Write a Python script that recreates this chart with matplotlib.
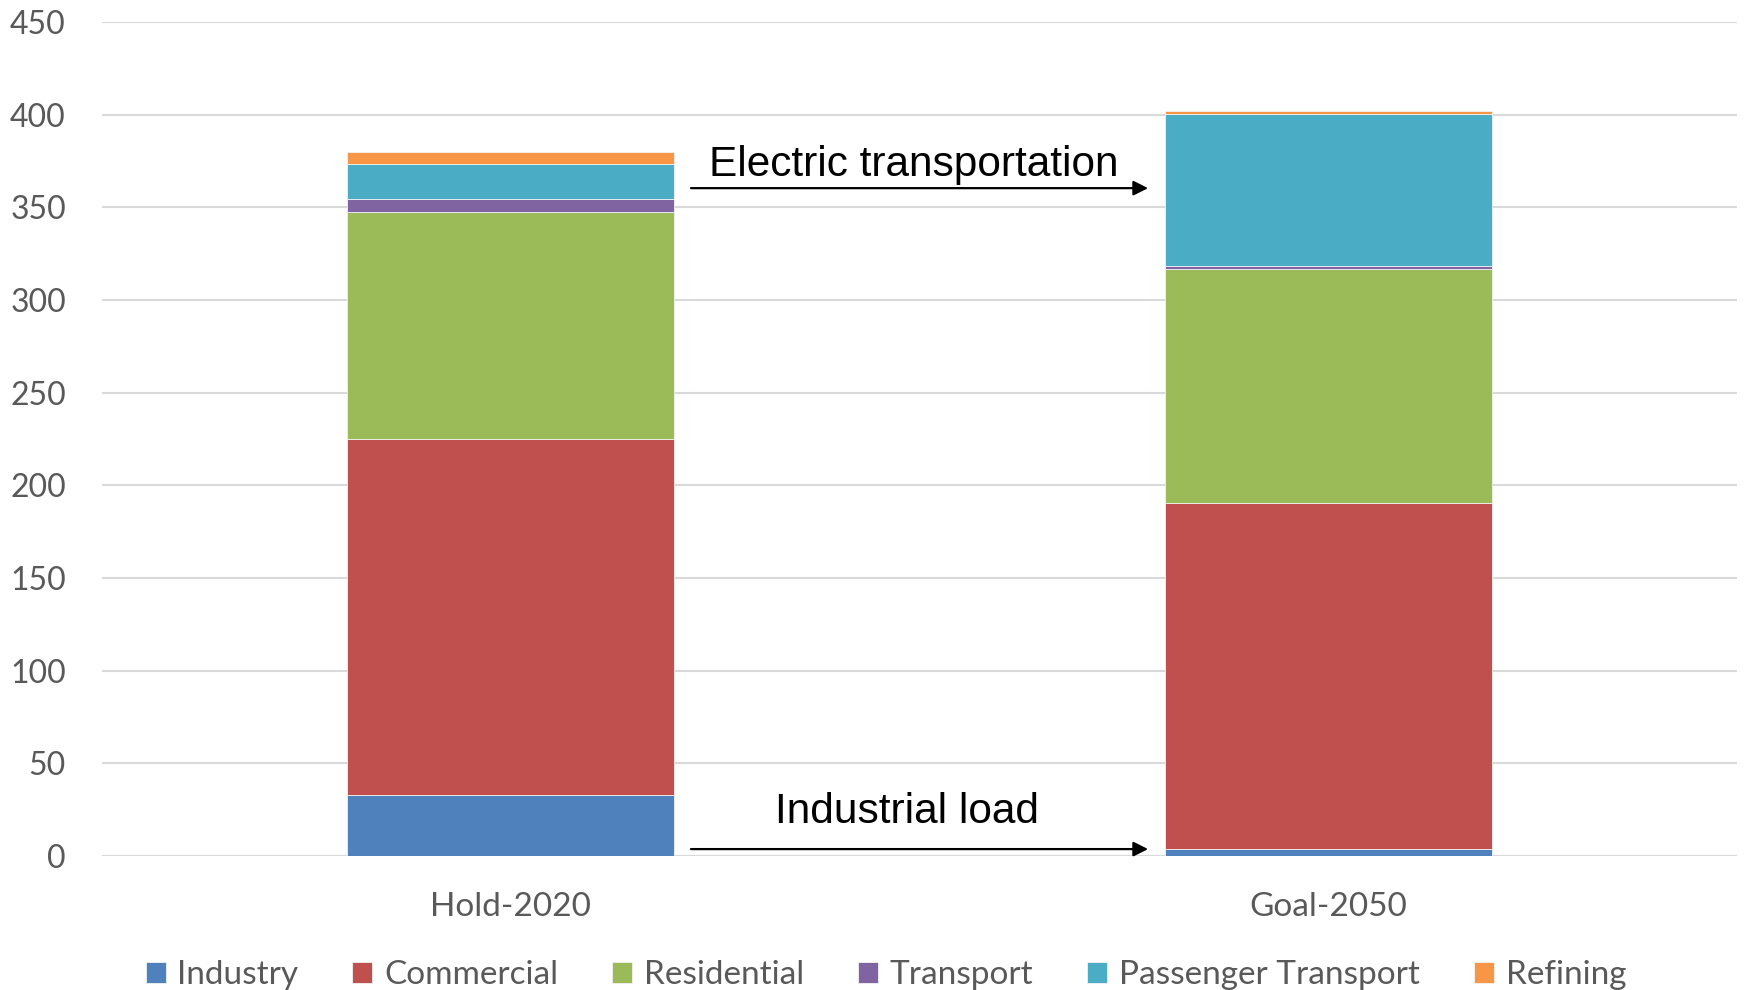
import matplotlib.pyplot as plt
import numpy as np

scenarios = ['Hold-2020', 'Goal-2050']
sectors = ['Industry', 'Commercial', 'Residential', 'Transport',
           'Passenger Transport', 'Refining']
loads = {
    'Industry': [32.8, 3.5],
    'Commercial': [192.0, 187.0],
    'Residential': [122.8, 126.0],
    'Transport': [6.7, 1.8],
    'Passenger Transport': [19.2, 82.2],
    'Refining': [6.2, 1.5],
}
colors = ['#4F81BD', '#C0504D', '#9BBB59', '#8064A2', '#4BACC6', '#F79646']
y_ticks = [0, 50, 100, 150, 200, 250, 300, 350, 400, 450]

plt.rcParams['font.family'] = ['Lato', 'DejaVu Sans']

fig = plt.figure(figsize=(17.44, 9.9), dpi=100)
ax = fig.add_axes([0.0585, 0.1356, 0.9375, 0.842])

x = np.arange(len(scenarios))
bottom = np.zeros(len(scenarios))
for name, c in zip(sectors, colors):
    vals = np.array(loads[name])
    ax.bar(x, vals, 0.4, bottom=bottom, color=c, label=name,
           edgecolor='#f2f2f2', linewidth=0.6, zorder=3)
    bottom += vals

ax.set_xlim(-0.5, 1.5)
ax.set_ylim(0, 450)
ax.set_yticks(y_ticks)
ax.set_xticks(x)
ax.set_xticklabels(scenarios, fontsize=24)
ax.grid(axis='y', color='#d9d9d9', linewidth=1.5, zorder=0)
ax.tick_params(axis='both', length=0, colors='#595959')
ax.tick_params(axis='y', labelsize=23, pad=26)
ax.tick_params(axis='x', pad=26)
for s in ax.spines.values():
    s.set_visible(False)
ax.axhline(0, color='#d9d9d9', linewidth=1.5, zorder=1)

# arrows between the two bars
arrow = dict(arrowstyle='-|>', color='black', lw=1.6, mutation_scale=22)
ax.annotate('', xy=(0.783, 360.4), xytext=(0.217, 360.4), arrowprops=arrow)
ax.annotate('', xy=(0.783, 3.6), xytext=(0.217, 3.6), arrowprops=arrow)
ax.text(0.493, 373.0, 'Electric transportation', ha='center', va='center',
        fontsize=30.5, family=['Liberation Sans', 'DejaVu Sans'])
ax.text(0.485, 23.5, 'Industrial load', ha='center', va='center',
        fontsize=30.5, family=['Liberation Sans', 'DejaVu Sans'])

fig.legend(loc='center', bbox_to_anchor=(0.508, 0.015), ncol=6,
           frameon=False, fontsize=24, handlelength=0.6,
           handleheight=0.6, handletextpad=0.35, columnspacing=1.62,
           labelcolor='#595959')

fig.savefig('out.png', dpi=100)
